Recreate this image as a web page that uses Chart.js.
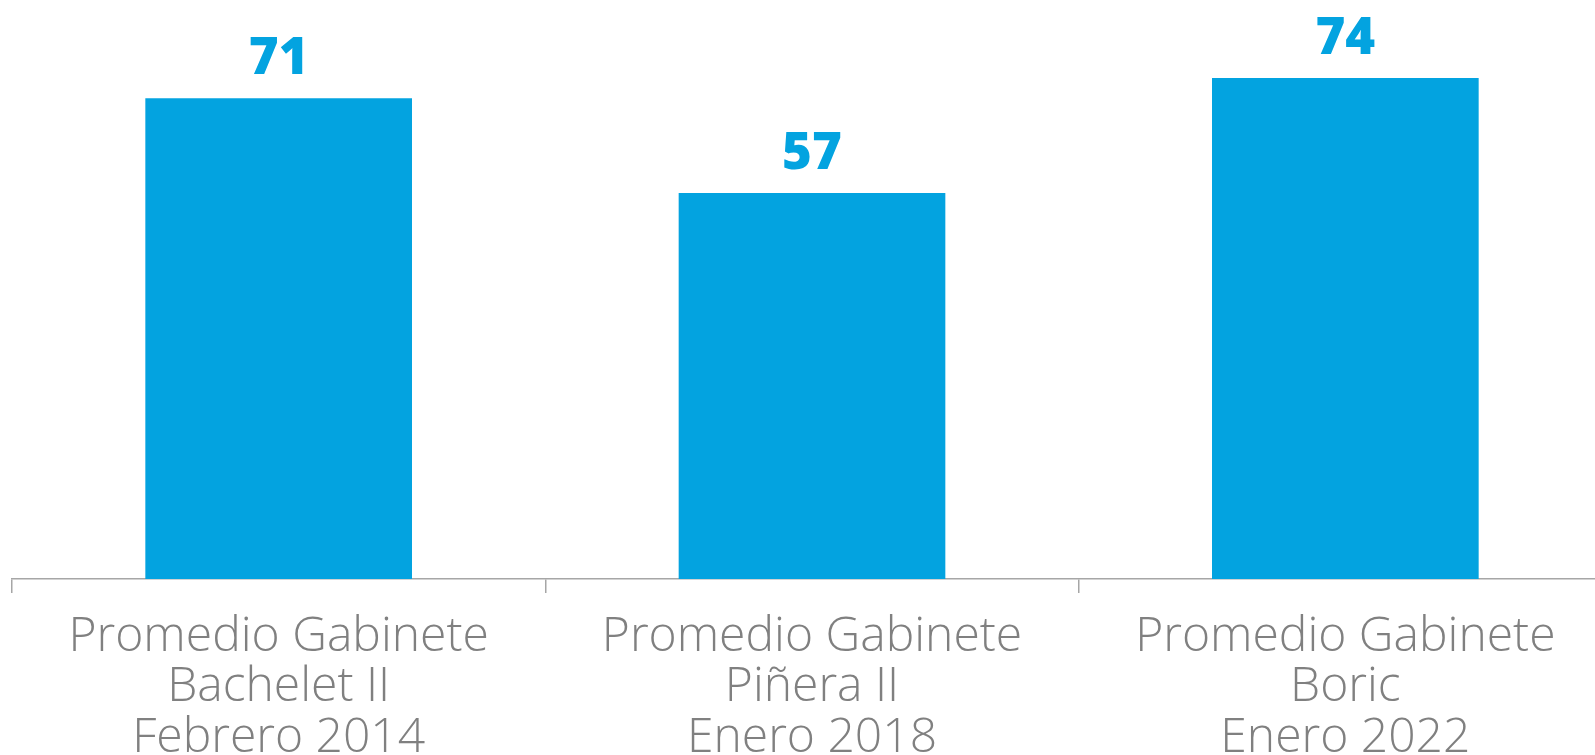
<!DOCTYPE html>
<html>
<head>
<meta charset="utf-8">
<script src="https://cdn.jsdelivr.net/npm/chart.js@4/dist/chart.umd.min.js"></script>
<style>
  html, body { margin: 0; padding: 0; background: #ffffff; overflow: hidden; }
  #wrap { position: absolute; left: 0; top: 0; width: 1612px; height: 755px; }
</style>
</head>
<body>
<div id="wrap"><canvas id="chart" width="1612" height="755"></canvas></div>
<script>
// Categories (multi-line tick labels)
const categories = [
	['Promedio Gabinete', 'Bachelet II', 'Febrero 2014'],
	['Promedio Gabinete', 'Piñera II', 'Enero 2018'],
	['Promedio Gabinete', 'Boric', 'Enero 2022']
];
const values = [71, 57, 74];

const barColor = '#03a3e0';
const textGray = '#808080';

// Draw the value labels above each bar
const valueLabels = {
	id: 'valueLabels',
	afterDatasetsDraw(chart) {
		const ctx = chart.ctx;
		const meta = chart.getDatasetMeta(0);
		ctx.save();
		ctx.fillStyle = barColor;
		ctx.font = '800 51px "Open Sans"';
		ctx.textAlign = 'center';
		ctx.textBaseline = 'alphabetic';
		meta.data.forEach((bar, i) => {
			ctx.fillText(String(values[i]), bar.x, bar.y - 24);
		});
		ctx.restore();
	}
};

const ctx = document.getElementById('chart').getContext('2d');

const chart = new Chart(ctx, {
	type: 'bar',
	data: {
		labels: categories,
		datasets: [{
			data: values,
			backgroundColor: barColor,
			borderWidth: 0,
			barPercentage: 0.5,
			categoryPercentage: 1.0
		}]
	},
	options: {
		responsive: false,
		animation: false,
		layout: { padding: { left: 12, right: 0, top: 0, bottom: 0 } },
		plugins: {
			legend: { display: false },
			tooltip: { enabled: false }
		},
		scales: {
			x: {
				offset: true,
				grid: {
					display: true,
					drawOnChartArea: false,
					drawTicks: true,
					tickLength: 14,
					color: '#a6a6a6',
					lineWidth: 1.5
				},
				border: { display: true, color: '#a6a6a6', width: 1.5 },
				ticks: {
					color: textGray,
					padding: 19,
					maxRotation: 0,
					autoSkip: false,
					font: { family: '"Open Sans"', size: 48, weight: 300, lineHeight: 1.05 }
				},
				afterFit(scale) {
					scale.height = 176;
				}
			},
			y: {
				display: false,
				min: 0,
				max: 85.5
			}
		}
	},
	plugins: [valueLabels]
});
</script>
</body>
</html>
